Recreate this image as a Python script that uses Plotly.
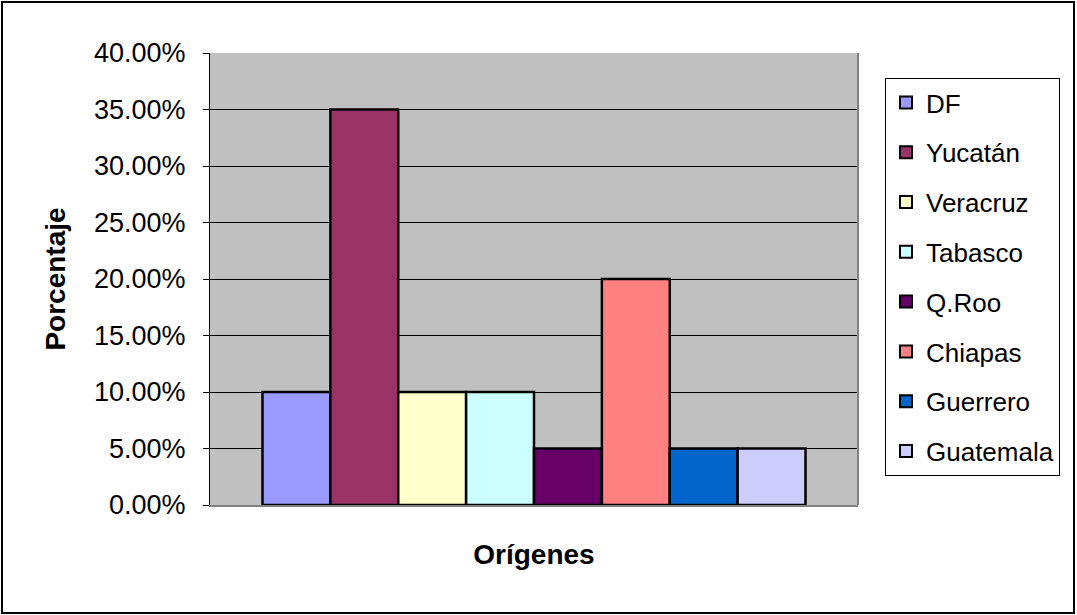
import plotly.graph_objects as go

categories = ["Orígenes"]
series_names = ["DF", "Yucatán", "Veracruz", "Tabasco", "Q.Roo", "Chiapas", "Guerrero", "Guatemala"]
series_values = [0.10, 0.35, 0.10, 0.10, 0.05, 0.20, 0.05, 0.05]
series_colors = ["#9999FF", "#993366", "#FFFFCC", "#CCFFFF", "#660066", "#FF8080", "#0066CC", "#CCCCFF"]
y_ticks = [0, 0.05, 0.10, 0.15, 0.20, 0.25, 0.30, 0.35, 0.40]

W, H = 1077, 615
L, R, T, B = 210, 858, 53, 505
pw, ph = R - L, B - T

fig = go.Figure()
for i, (name, val, col) in enumerate(zip(series_names, series_values, series_colors)):
    fig.add_trace(go.Bar(
        x=categories, y=[val], name=name, legendgroup=name,
        marker=dict(color=col, line=dict(color="black", width=2.5)),
    ))

font_family = "Arial, Liberation Sans, sans-serif"

def px2x(px):
    return (px - L) / pw

def px2y(py):
    return (B - py) / ph

fig.update_layout(
    width=W, height=H,
    margin=dict(l=L, r=W - R, t=T, b=H - B, pad=0),
    paper_bgcolor="white",
    plot_bgcolor="#C0C0C0",
    barmode="group",
    bargap=0.162,
    bargroupgap=0,
    font=dict(family=font_family, size=24, color="black"),
    showlegend=True,
    legend=dict(
        x=px2x(885), y=px2y(78), xanchor="left", yanchor="top",
        bgcolor="white", bordercolor="black", borderwidth=1,
        font=dict(family=font_family, size=26, color="black"),
        tracegroupgap=13,
        itemsizing="constant",
        entrywidth=147, entrywidthmode="pixels",
    ),
    xaxis=dict(
        showticklabels=False, ticks="",
        showline=True, linecolor="#808080", linewidth=2,
        showgrid=False, zeroline=False,
        title=dict(text="<b>Orígenes</b>", font=dict(size=28, family=font_family), standoff=38),
    ),
    yaxis=dict(
        range=[0, 0.40], tickvals=y_ticks, tickformat=".2%",
        ticks="outside", ticklen=6, tickcolor="black", tickwidth=1,
        ticklabelstandoff=12,
        showline=True, linecolor="black", linewidth=1,
        showgrid=True, gridcolor="black", gridwidth=1,
        zeroline=False,
        tickfont=dict(size=27, family=font_family),
        title=dict(text="<b>Porcentaje</b>", font=dict(size=28, family=font_family), standoff=20),
    ),
    shapes=[
        dict(type="line", xref="paper", yref="paper", x0=1, x1=1, y0=0, y1=1,
             line=dict(color="#808080", width=2)),
        dict(type="rect", xref="paper", yref="paper",
             x0=px2x(2), x1=px2x(1074), y0=px2y(613), y1=px2y(2),
             line=dict(color="black", width=2), layer="below"),
    ],
)

fig.write_html("out.html", config={"displayModeBar": False},
               post_script="document.body.style.margin='0';")
